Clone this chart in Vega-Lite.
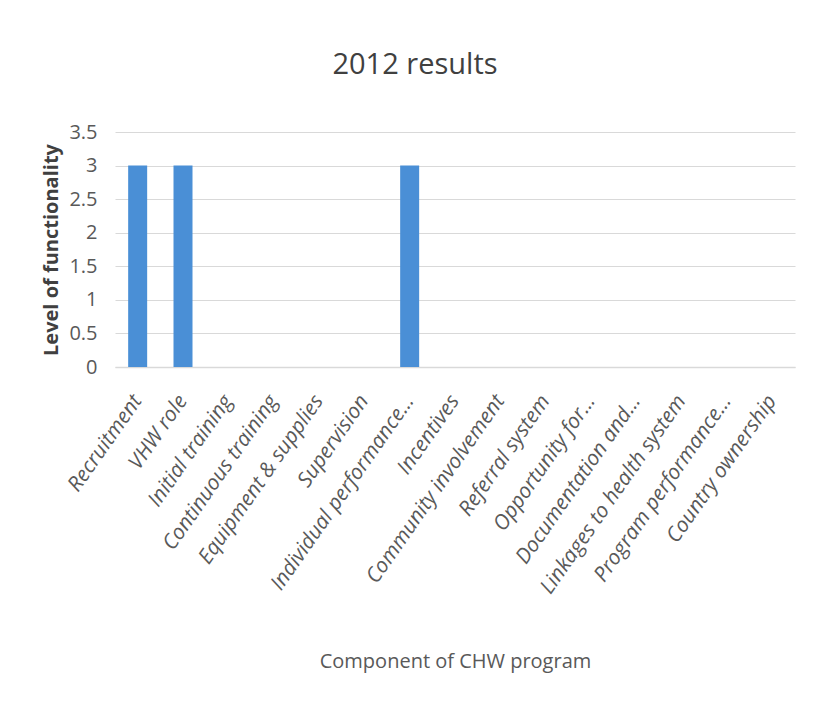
{
  "$schema": "https://vega.github.io/schema/vega-lite/v6.json",
  "autosize": "none",
  "width": 680,
  "height": 235,
  "padding": {"left": 115, "top": 132, "right": 18, "bottom": 348},
  "background": "white",
  "title": {
    "text": "2012 results",
    "font": "Open Sans",
    "fontSize": 29,
    "fontWeight": "normal",
    "color": "#404040",
    "anchor": "middle",
    "dx": -40,
    "offset": 42
  },
  "data": {
    "values": [
      {"component": "Recruitment", "level": 3},
      {"component": "VHW role", "level": 3},
      {"component": "Initial training", "level": 0},
      {"component": "Continuous training", "level": 0},
      {"component": "Equipment & supplies", "level": 0},
      {"component": "Supervision", "level": 0},
      {"component": "Individual performance…", "level": 3},
      {"component": "Incentives", "level": 0},
      {"component": "Community involvement", "level": 0},
      {"component": "Referral system", "level": 0},
      {"component": "Opportunity for…", "level": 0},
      {"component": "Documentation and…", "level": 0},
      {"component": "Linkages to health system", "level": 0},
      {"component": "Program performance…", "level": 0},
      {"component": "Country ownership", "level": 0}
    ]
  },
  "mark": {"type": "bar", "color": "#4a8fd6", "size": 19},
  "encoding": {
    "x": {
      "field": "component",
      "type": "nominal",
      "sort": null,
      "scale": {"paddingInner": 0.58, "paddingOuter": 0.29},
      "axis": {
        "title": "Component of CHW program",
        "titleFont": "Open Sans",
        "titleFontSize": 20,
        "titleFontWeight": "normal",
        "titleColor": "#595959",
        "titlePadding": 84,
        "labelAngle": -55,
        "labelAlign": "right",
        "labelBaseline": "middle",
        "labelFont": "Open Sans",
        "labelFontSize": 21,
        "labelFontStyle": "italic",
        "labelColor": "#595959",
        "labelPadding": 30,
        "labelLimit": 400,
        "ticks": false,
        "domainColor": "#d9d9d9",
        "domainWidth": 1.5
      }
    },
    "y": {
      "field": "level",
      "type": "quantitative",
      "scale": {"domain": [0, 3.5]},
      "axis": {
        "title": "Level of functionality",
        "titleFont": "Open Sans",
        "titleFontSize": 20,
        "titleFontWeight": "bold",
        "titleColor": "#404040",
        "titlePadding": 7,
        "values": [0, 0.5, 1, 1.5, 2, 2.5, 3, 3.5],
        "format": "~g",
        "labelFont": "Open Sans",
        "labelFontSize": 20,
        "labelColor": "#595959",
        "labelPadding": 18,
        "ticks": false,
        "domain": false,
        "gridColor": "#d9d9d9",
        "gridWidth": 1.2
      }
    }
  },
  "config": {"view": {"stroke": null}}
}
